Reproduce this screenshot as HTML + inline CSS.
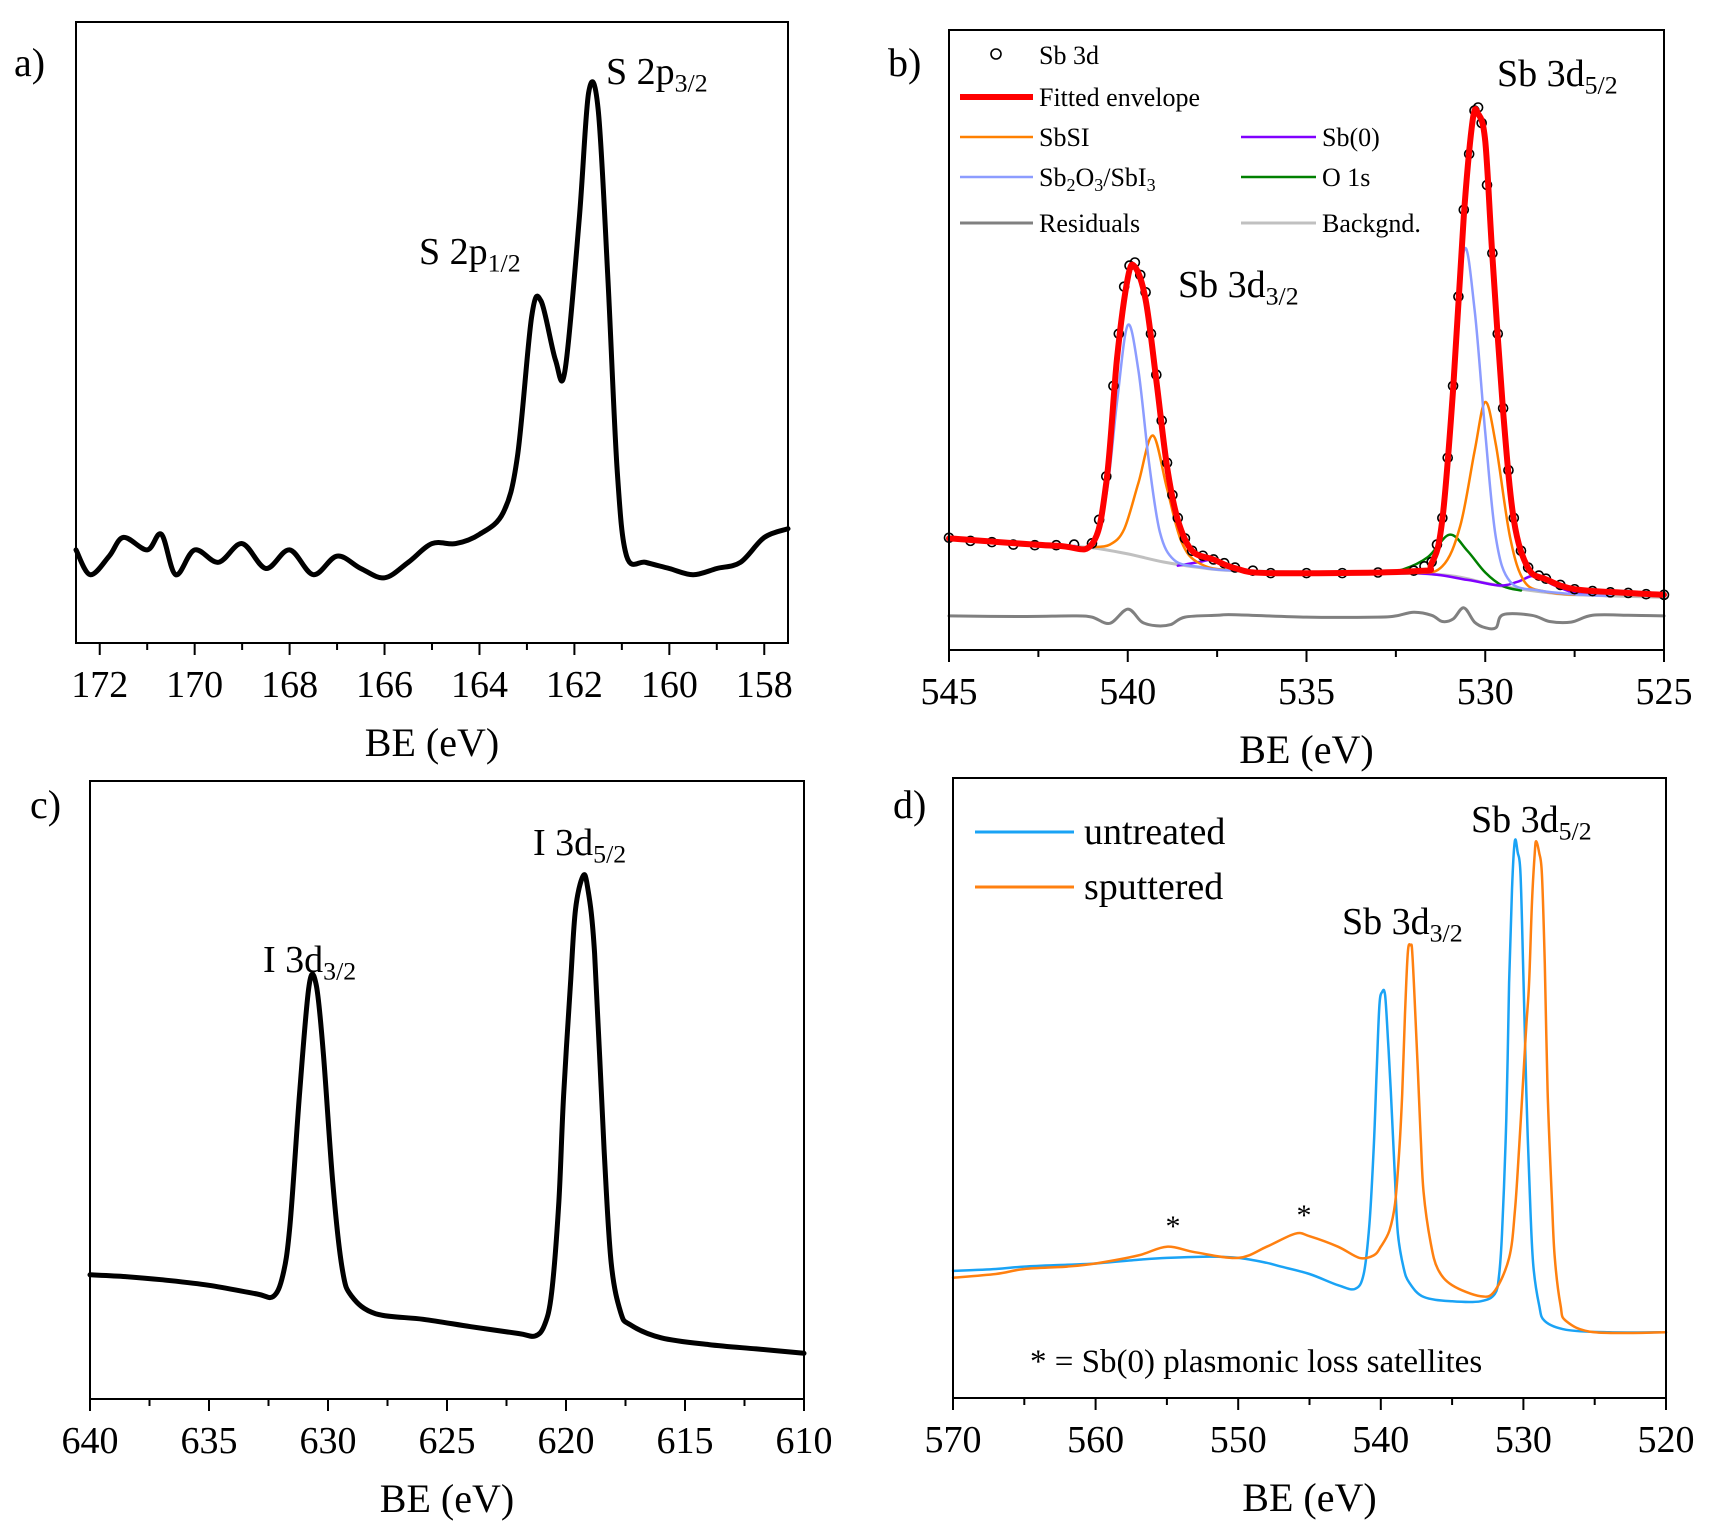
<!DOCTYPE html>
<html><head><meta charset="utf-8">
<style>
html,body{margin:0;padding:0;background:#fff;}
svg{display:block;font-family:"Liberation Serif",serif;}
</style></head>
<body>
<svg id="fig" width="1713" height="1539" viewBox="0 0 1713 1539" xmlns="http://www.w3.org/2000/svg">
<g id="root"></g>
</svg>
<script>
// ---------- data (BE eV, normalized intensity 0-100 of plot height) ----------
const aS2p = [[172.5,15],[172.2,11],[171.8,14],[171.5,17],[171,15],[170.7,17.5],[170.4,11],[170,15],[169.5,13],[169,16],[168.5,12],[168,15],[167.5,11],[167,14],[166.5,12],[166,10.5],[165.5,13],[165,16],[164.5,16],[164,17.5],[163.5,21],[163.2,30],[162.9,52.6],[162.7,55],[162.4,45.6],[162.2,43.8],[161.9,68],[161.7,88.6],[161.5,86],[161.3,59.6],[161.1,28],[160.9,14],[160.5,13],[160,12],[159.5,11],[159,12],[158.5,13],[158,17],[157.5,18.4]];

const bSb3d = [[545,18.1],[544.4,17.6],[543.8,17.4],[543.2,17],[542.6,16.9],[542,16.9],[541.5,17],[541,17.2],[540.8,21],[540.6,28],[540.4,42.6],[540.25,51],[540.1,58.6],[539.95,62],[539.8,62.5],[539.65,60.5],[539.5,57.7],[539.35,51],[539.2,44.4],[539.05,37],[538.9,30.2],[538.75,25],[538.6,21.3],[538.4,18],[538.2,16],[537.9,15.2],[537.6,14.6],[537.3,14],[537,13.3],[536.5,12.8],[536,12.4],[535,12.4],[534,12.4],[533,12.5],[532,12.8],[531.7,13.5],[531.5,14.2],[531.35,17],[531.2,21.3],[531.05,31],[530.9,42.6],[530.75,57],[530.6,71],[530.45,80],[530.3,87],[530.2,87.5],[530.1,85],[529.95,75],[529.8,64],[529.65,51],[529.5,39],[529.35,29],[529.2,21.3],[529,16],[528.8,13.3],[528.5,12],[528.3,11.5],[527.9,10.5],[527.5,9.8],[527,9.5],[526.5,9.3],[526,9.2],[525.5,9],[525,8.9]];
const bEnvelope = [[545,18],[542,16.8],[541,17.1],[540.6,27],[540.3,47],[540,60],[539.8,61.8],[539.5,56.5],[539.2,43.5],[538.9,29.5],[538.6,21],[538.2,16],[537.6,14.6],[537,13.2],[536,12.4],[532,12.7],[531.5,14],[531.2,21],[530.9,42],[530.6,70],[530.35,85.5],[530.2,86.5],[530,82],[529.8,63.5],[529.5,38.5],[529.2,21],[528.8,13.2],[528.3,11.4],[527.5,9.8],[526,9.2],[525,8.9]];
const bSb2O3 = [[541.5,16.8],[541,17],[540.6,25],[540.3,40],[540,52.4],[539.7,45],[539.4,30],[539.1,19],[538.7,14.5],[538,13.4],[537,12.8],[534,12.4],[532,12.4],[531.5,13.5],[531.2,20],[530.9,40],[530.6,64.3],[530.3,55],[530,35],[529.7,18],[529.3,11],[528.5,9.6],[527.5,9],[526.5,8.7]];
const bSbSI = [[541,16.6],[540.5,17],[540.1,19.5],[539.7,27],[539.3,34.6],[538.9,26],[538.5,17.5],[538,14],[537,12.8],[534,12.4],[532,12.4],[531.2,13.5],[530.7,20],[530.3,32],[530,40],[529.7,33],[529.3,18],[528.9,11],[528.3,9.4],[527.5,8.9]];
const bSb0 = [[538.6,13.6],[538,14.2],[537.6,14.6],[537.2,13.8],[536.6,12.8],[536,12.4],[532,12.4],[530.5,11.3],[529.6,10.4],[529.1,11],[528.6,12],[528.1,10.5],[527.5,9.2],[527,8.9]];
const bO1s = [[533,12.4],[532.3,13],[531.6,15],[531,18.6],[530.5,16],[530,12.5],[529.5,10.3],[529,9.6]];
const bBackground = [[545,17.8],[542,16.8],[541,16.5],[540,15.5],[539,14.2],[538,13.3],[537,12.8],[534,12.5],[532,12.4],[531,12],[530.5,11.5],[530,10.8],[529,9.8],[528,9.1],[527.5,8.9],[525,8.5]];
const bResiduals = [[545,5.5],[543,5.4],[541.5,5.5],[541,5.3],[540.5,4.3],[540,6.6],[539.6,4.5],[539.2,3.9],[538.8,4.1],[538.4,5.3],[537.5,5.6],[537,5.7],[535,5.3],[533,5.3],[532.5,5.5],[532,6.1],[531.5,5.6],[531.2,4.6],[530.9,5],[530.6,6.8],[530.3,4.5],[530,3.6],[529.7,3.6],[529.5,5.7],[528.7,5.6],[528.2,4.6],[527.6,4.5],[527,5.6],[526,5.6],[525,5.5]];

const cI3d = [[640,20.1],[638.5,19.8],[637,19.3],[635,18.4],[633,17],[632.3,16.6],[631.9,20],[631.6,28],[631.2,49.1],[630.8,66.8],[630.5,67.1],[630.2,56.2],[629.8,35],[629.4,21],[629,16.6],[628,13.8],[626,12.9],[624,11.7],[622,10.6],[621.3,10.2],[620.9,12],[620.6,17.3],[620.3,32],[620.1,49.1],[619.8,68],[619.6,79.2],[619.3,84.5],[619.1,83],[618.8,72.1],[618.4,40.3],[618.1,22],[617.7,14],[617.3,12],[616,9.9],[614,8.8],[612,8.1],[610,7.4]];

const dUntreated = [[570,20.5],[567,20.8],[565,21.2],[562,21.5],[560,21.7],[557,22.3],[555,22.6],[552,22.8],[550,22.6],[548,21.8],[547,21.2],[545,20],[543,18.2],[541.8,17.6],[541.2,20],[540.8,28],[540.5,40.3],[540.3,52],[540.1,63.3],[539.9,65.5],[539.7,65],[539.5,58],[539.3,49.5],[539,35],[538.8,26.5],[538.4,21],[538,18.6],[537,16.3],[535,15.6],[533,15.6],[532,16.8],[531.7,20],[531.5,26.5],[531.2,45],[531,67],[530.8,82],[530.6,89.8],[530.4,88],[530.2,84.5],[530,68],[529.8,49.5],[529.5,30],[529.3,21.2],[528.9,15],[528.5,12.4],[527,11],[524,10.6],[520.4,10.6]];
const dSputtered = [[570,19.4],[567,20],[565,20.8],[562,21.2],[560,21.7],[557,23],[555,24.4],[553,23.5],[550,22.6],[548,24.4],[546,26.5],[545,26.1],[543,24.4],[541.5,22.6],[540.5,23],[540,24.4],[539.4,27],[539,31.4],[538.7,40],[538.5,49],[538.3,62],[538.1,72],[537.9,73],[537.8,72],[537.6,63],[537.4,52.7],[537.2,42],[537,33.2],[536.5,25],[536,20.8],[535,18.2],[533,16.4],[532,17.3],[531,22.6],[530.6,30],[530.3,40.3],[530,52],[529.8,60],[529.6,67],[529.4,80],[529.2,88],[529.1,89.8],[528.9,88],[528.7,84.5],[528.5,70],[528.3,49.5],[528,32],[527.8,22.6],[527.4,15],[527,12.4],[525,10.6],[520,10.6]];

// ---------- tick definitions ----------
const aTicks = ['172','170','168','166','164','162','160','158'];
const bTicks = ['545','540','535','530','525'];
const cTicks = ['640','635','630','625','620','615','610'];
const dTicks = ['570','560','550','540','530','520'];

// ---------- helpers ----------
const NS = 'http://www.w3.org/2000/svg';
const root = document.getElementById('root');
function mk(tag, attrs, parent){ const e=document.createElementNS(NS,tag); for(const k in attrs) e.setAttribute(k,attrs[k]); (parent||root).appendChild(e); return e; }
function smoothPath(pts){
  if(pts.length<2) return '';
  let d='M'+pts[0][0].toFixed(1)+','+pts[0][1].toFixed(1);
  for(let i=0;i<pts.length-1;i++){
    const p0=pts[i-1]||pts[i], p1=pts[i], p2=pts[i+1], p3=pts[i+2]||p2;
    const c1x=p1[0]+(p2[0]-p0[0])/6, c1y=p1[1]+(p2[1]-p0[1])/6;
    const c2x=p2[0]-(p3[0]-p1[0])/6, c2y=p2[1]-(p3[1]-p1[1])/6;
    d+=' C'+c1x.toFixed(1)+','+c1y.toFixed(1)+' '+c2x.toFixed(1)+','+c2y.toFixed(1)+' '+p2[0].toFixed(1)+','+p2[1].toFixed(1);
  }
  return d;
}
function panel(cfg){
  const g = mk('g',{});
  
  
  const xs = v => cfg.L + (cfg.x0 - v)/(cfg.x0 - cfg.x1)*(cfg.R-cfg.L);
  const ys = v => cfg.B - v/100*(cfg.B-cfg.T);
  cfg.xs=xs; cfg.ys=ys; cfg.g=g;
  const ax = mk('g',{},g);
  
  
  for(let v=cfg.tmin; v<=cfg.tmax+1e-9; v+=cfg.minor){
    const isMaj = Math.abs((v-cfg.tmin)/cfg.major - Math.round((v-cfg.tmin)/cfg.major))<1e-6;
    const X = xs(v);
    const t = mk('line',{x1:X,x2:X,y1:cfg.B,y2:cfg.B+(isMaj?12:7),stroke:'#000','stroke-width':2},ax);
    
    
  }
  cfg.labels.forEach(s=>{
    const v = parseFloat(s);
    const t = mk('text',{x:xs(v),y:cfg.B+54,'font-size':38,'text-anchor':'middle',fill:'#000'},ax);
    t.textContent = s;
    
    
  });
  const tt = mk('text',{x:(cfg.L+cfg.R)/2,y:cfg.B+113,'font-size':40,'text-anchor':'middle',fill:'#000'},ax);
  tt.textContent='BE (eV)';
  
  
  return cfg;
}
function series(cfg, data, color, width, name){
  const pts = data.map(p=>[cfg.xs(p[0]), cfg.ys(p[1])]);
  const p = mk('path',{d:smoothPath(pts),fill:'none',stroke:color,'stroke-width':width,'stroke-linejoin':'round','stroke-linecap':'round'},cfg.g);
  
  
  return p;
}
function frame(cfg){
  const r = mk('rect',{x:cfg.L,y:cfg.T,width:cfg.R-cfg.L,height:cfg.B-cfg.T,fill:'none',stroke:'#000','stroke-width':2},cfg.g);
  
  
}
function label(x,y,main,sub,size,name,anchor){
  const t = mk('text',{x:x,y:y,'font-size':size,fill:'#000','text-anchor':anchor||'start'});
  
  
  const a = mk('tspan',{},t); a.textContent = main;
  if(sub){ const b = mk('tspan',{'font-size':size*0.68,dy:size*0.2},t); b.textContent=sub; }
  return t;
}

// ---------- panel a ----------
const A = panel({name:'panel-a',L:76,R:788,T:22,B:643,x0:172.5,x1:157.5,tmin:158,tmax:172,major:2,minor:1,labels:aTicks});
series(A,aS2p,'#000',5,'s2p-spectrum');
frame(A);
label(606,84,'S 2p','3/2',38,'s2p32-label');
label(419,264,'S 2p','1/2',38,'s2p12-label');
label(14,76,'a)',null,40,'panel-a-label');

// ---------- panel b ----------
const Bp = panel({name:'panel-b',L:949,R:1664,T:30,B:650,x0:545,x1:525,tmin:525,tmax:545,major:5,minor:2.5,labels:bTicks});
series(Bp,bBackground,'#c0c0c0',3,'background-line');
series(Bp,bResiduals,'#808080',3,'residuals-line');
series(Bp,bO1s,'#008000',2.5,'o1s-line');
series(Bp,bSb0,'#8000ff',2.5,'sb0-line');
series(Bp,bSbSI,'#ff8000',2.5,'sbsi-line');
series(Bp,bSb2O3,'#8c9cff',2.5,'sb2o3-line');
bSb3d.forEach(p=>{
  const c = mk('circle',{cx:Bp.xs(p[0]),cy:Bp.ys(p[1]),r:4.5,fill:'none',stroke:'#000','stroke-width':1.6},Bp.g);
  
  
});
series(Bp,bEnvelope,'#ff0000',6,'fitted-envelope-line');
frame(Bp);
label(1497,86,'Sb 3d','5/2',38,'sb3d52-label');
label(1178,297,'Sb 3d','3/2',38,'sb3d32-label');
label(888,76,'b)',null,40,'panel-b-label');
const lg = mk('g',{});  
const legB = [
 ['circle',996,1039,55,'Sb 3d',null,'#000'],
 ['line',960,1039,97,'Fitted envelope',null,'#ff0000',6],
 ['line',960,1039,137,'SbSI',null,'#ff8000',2.5],
 ['line',1241,1322,137,'Sb(0)',null,'#8000ff',2.5],
 ['line',960,1039,177,'Sb','2O3SbI3','#8c9cff',2.5],
 ['line',1241,1322,177,'O 1s',null,'#008000',2.5],
 ['line',960,1039,223,'Residuals',null,'#808080',3],
 ['line',1241,1322,223,'Backgnd.',null,'#c0c0c0',3]
];
legB.forEach(e=>{
  if(e[0]==='circle'){ mk('circle',{cx:e[1],cy:e[3]-1,r:5,fill:'none',stroke:'#000','stroke-width':1.6},lg); }
  else { mk('line',{x1:e[1],x2:e[2]-6,y1:e[3],y2:e[3],stroke:e[6],'stroke-width':e[7]},lg); }
  const t = mk('text',{x:e[2],y:e[3]+9,'font-size':26,fill:'#000'},lg);
  
  
  if(e[5]){
    const s1=mk('tspan',{},t); s1.textContent='Sb';
    const s2=mk('tspan',{'font-size':18,dy:5},t); s2.textContent='2';
    const s3=mk('tspan',{dy:-5},t); s3.textContent='O';
    const s4=mk('tspan',{'font-size':18,dy:5},t); s4.textContent='3';
    const s5=mk('tspan',{dy:-5},t); s5.textContent='/SbI';
    const s6=mk('tspan',{'font-size':18,dy:5},t); s6.textContent='3';
  } else t.textContent=e[4];
});

// ---------- panel c ----------
const C = panel({name:'panel-c',L:90,R:804,T:781,B:1399,x0:640,x1:610,tmin:610,tmax:640,major:5,minor:2.5,labels:cTicks});
series(C,cI3d,'#000',5,'i3d-spectrum');
frame(C);
label(263,972,'I 3d','3/2',38,'i3d32-label');
label(533,855,'I 3d','5/2',38,'i3d52-label');
label(30,818,'c)',null,40,'panel-c-label');

// ---------- panel d ----------
const D = panel({name:'panel-d',L:953,R:1666,T:778,B:1398,x0:570,x1:520,tmin:520,tmax:570,major:10,minor:5,labels:dTicks});
series(D,dUntreated,'#1aa3f5',2.5,'untreated-line');
series(D,dSputtered,'#ff8010',2.5,'sputtered-line');
frame(D);
label(1471,832,'Sb 3d','5/2',38,'sb3d52-d-label');
label(1342,934,'Sb 3d','3/2',38,'sb3d32-d-label');
label(1173,1236,'*',null,30,'satellite-marker-1','middle');
label(1304,1225,'*',null,30,'satellite-marker-2','middle');
label(1030,1372,'* = Sb(0) plasmonic loss satellites',null,33,'satellite-note');
label(893,818,'d)',null,40,'panel-d-label');
const lgd = mk('g',{});  
[[832,'untreated','#1aa3f5'],[887,'sputtered','#ff8010']].forEach(e=>{
  mk('line',{x1:975,x2:1074,y1:e[0],y2:e[0],stroke:e[2],'stroke-width':3},lgd);
  const t = mk('text',{x:1084,y:e[0]+12,'font-size':38,fill:'#000'},lgd);
  t.textContent=e[1];
  
  
});
</script>
</body></html>
